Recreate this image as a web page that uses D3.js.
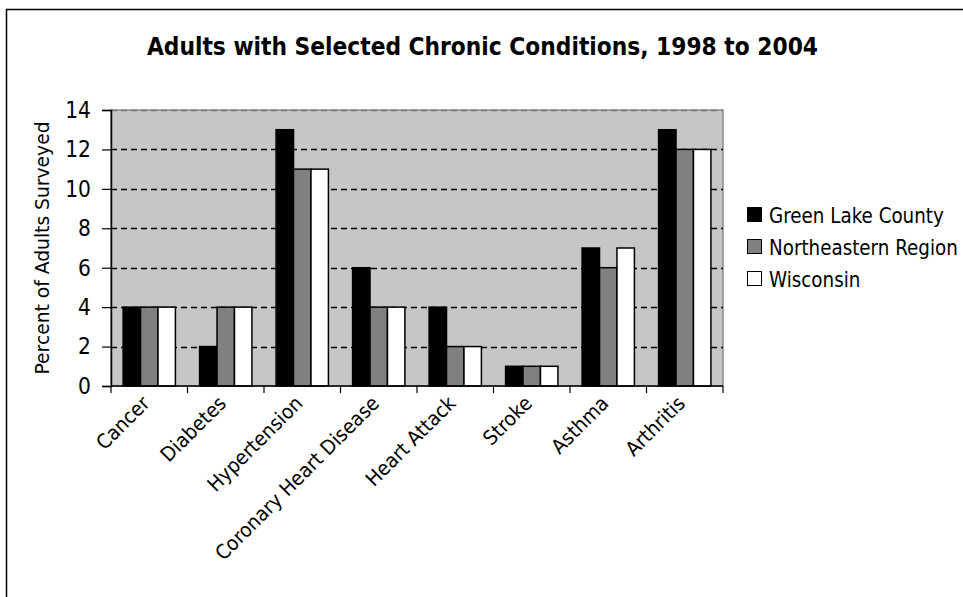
<!DOCTYPE html>
<html>
<head>
<meta charset="utf-8">
<script src="https://cdn.jsdelivr.net/npm/d3@7"></script>
<style>
  html, body { margin: 0; padding: 0; background: #fff; }
  svg { display: block; }
  text { font-family: "DejaVu Sans", Verdana, sans-serif; fill: #000; }
</style>
</head>
<body>
<svg id="chart" width="963" height="597"></svg>
<script>
const categories = ["Cancer", "Diabetes", "Hypertension", "Coronary Heart Disease", "Heart Attack", "Stroke", "Asthma", "Arthritis"];
const seriesNames = ["Green Lake County", "Northeastern Region", "Wisconsin"];
const greenLake = [4, 2, 13, 6, 4, 1, 7, 13];
const northeastern = [4, 4, 11, 4, 2, 1, 6, 12];
const wisconsin = [4, 4, 11, 4, 2, 1, 7, 12];
const yTicks = [0, 2, 4, 6, 8, 10, 12, 14];
const seriesColors = ["#000000", "#808080", "#ffffff"];
const titleText = "Adults with Selected Chronic Conditions, 1998 to 2004";
const yTitleText = "Percent of Adults Surveyed";

const seriesValues = [greenLake, northeastern, wisconsin];

const svg = d3.select("#chart");

// outer frame
svg.append("rect").attr("x", 6.5).attr("y", 9.5).attr("width", 970).attr("height", 600)
  .attr("fill", "#fff").attr("stroke", "#000").attr("stroke-width", 1.5);

const plot = { left: 111, top: 110, right: 723, bottom: 386 };

const x = d3.scaleBand().domain(categories).range([plot.left, plot.right]).paddingInner(0).paddingOuter(0);
const groupW = x.bandwidth() * 0.684;
const xs = d3.scaleBand().domain(seriesNames).range([0, groupW]).padding(0);
const y = d3.scaleLinear().domain([0, 14]).range([plot.bottom, plot.top]);

// squeeze text horizontally to a given factor, keeping its font height
function squeeze(sel, factor) {
  sel.each(function () {
    const len = this.getComputedTextLength();
    d3.select(this).attr("textLength", (len * factor).toFixed(2)).attr("lengthAdjust", "spacingAndGlyphs");
  });
}

// plot area
svg.append("rect").attr("x", plot.left).attr("y", plot.top)
  .attr("width", plot.right - plot.left).attr("height", plot.bottom - plot.top)
  .attr("fill", "#c6c6c6").attr("stroke", "#8a8a8a").attr("stroke-width", 1.5);

// gridlines
svg.append("g").selectAll("line").data(yTicks.filter(d => d > 0)).join("line")
  .attr("x1", plot.left).attr("x2", plot.right)
  .attr("y1", d => Math.round(y(d)) + 0.5).attr("y2", d => Math.round(y(d)) + 0.5)
  .attr("stroke", d => d === 14 ? "#777" : "#000")
  .attr("stroke-width", 1.3)
  .attr("stroke-dasharray", "6,4");

// bars
const gBars = svg.append("g");
seriesNames.forEach((s, si) => {
  gBars.append("g").selectAll("rect").data(categories).join("rect")
    .attr("x", (c) => x(c) + (x.bandwidth() - groupW) / 2 + xs(s))
    .attr("y", (c, i) => y(seriesValues[si][i]))
    .attr("width", xs.bandwidth())
    .attr("height", (c, i) => y(0) - y(seriesValues[si][i]))
    .attr("fill", seriesColors[si])
    .attr("stroke", "#000").attr("stroke-width", 1.5);
});

// y axis
const yAxis = d3.axisLeft(y).tickValues(yTicks).tickSize(9).tickPadding(11).tickFormat(d3.format("d"));
const gy = svg.append("g").attr("transform", `translate(${plot.left},0)`).call(yAxis);
gy.select(".domain").attr("stroke", "#000").attr("stroke-width", 1.5);
gy.selectAll(".tick line").attr("stroke", "#000").attr("stroke-width", 1.2);
gy.selectAll(".tick text").attr("font-size", 23).attr("font-family", "DejaVu Sans");
squeeze(gy.selectAll(".tick text"), 0.88);

// x axis with boundary ticks
svg.append("line").attr("x1", plot.left).attr("x2", plot.right)
  .attr("y1", plot.bottom).attr("y2", plot.bottom).attr("stroke", "#000").attr("stroke-width", 1.5);
const bounds = categories.map(c => x(c)).concat([plot.right]);
svg.append("g").selectAll("line").data(bounds).join("line")
  .attr("x1", d => d).attr("x2", d => d).attr("y1", plot.bottom).attr("y2", plot.bottom + 7)
  .attr("stroke", "#000").attr("stroke-width", 1.2);

// x labels
const xl = svg.append("g").selectAll("text").data(categories).join("text")
  .attr("font-size", 20)
  .attr("text-anchor", "end")
  .attr("transform", c => `translate(${x(c) + x.bandwidth() / 2 - 9},${plot.bottom + 8}) rotate(-45)`)
  .attr("dy", "0.75em")
  .text(c => c);
const coronaryLen = xl.filter(c => c === "Coronary Heart Disease").node().getComputedTextLength();
squeeze(xl, 222 / coronaryLen);

// title
svg.append("text").attr("x", 482.5).attr("y", 55)
  .attr("text-anchor", "middle").attr("font-weight", "bold").attr("font-size", 25)
  .attr("textLength", 671).attr("lengthAdjust", "spacingAndGlyphs")
  .text(titleText);

// y title
svg.append("text").attr("transform", "translate(49,248) rotate(-90)")
  .attr("text-anchor", "middle").attr("font-size", 20)
  .attr("textLength", 253).attr("lengthAdjust", "spacingAndGlyphs")
  .text(yTitleText);

// legend
const lg = svg.append("g");
const rows = lg.selectAll("g").data(seriesNames).join("g")
  .attr("transform", (d, i) => `translate(747,${215 + i * 32})`);
rows.append("rect").attr("x", 0.5).attr("y", -7.5).attr("width", 14).attr("height", 14)
  .attr("fill", (d, i) => seriesColors[i]).attr("stroke", "#000").attr("stroke-width", 1);
const ltg = rows.append("g").attr("transform", "translate(22,0)");
const lt = ltg.append("text").attr("x", 0).attr("y", 0).attr("dy", "0.36em")
  .attr("font-size", 21).text(d => d);
const neLen = lt.filter(d => d === "Northeastern Region").node().getComputedTextLength();
const sx = 189 / neLen;
ltg.attr("transform", `translate(22,0) scale(${sx.toFixed(4)},1)`);
</script>
</body>
</html>
